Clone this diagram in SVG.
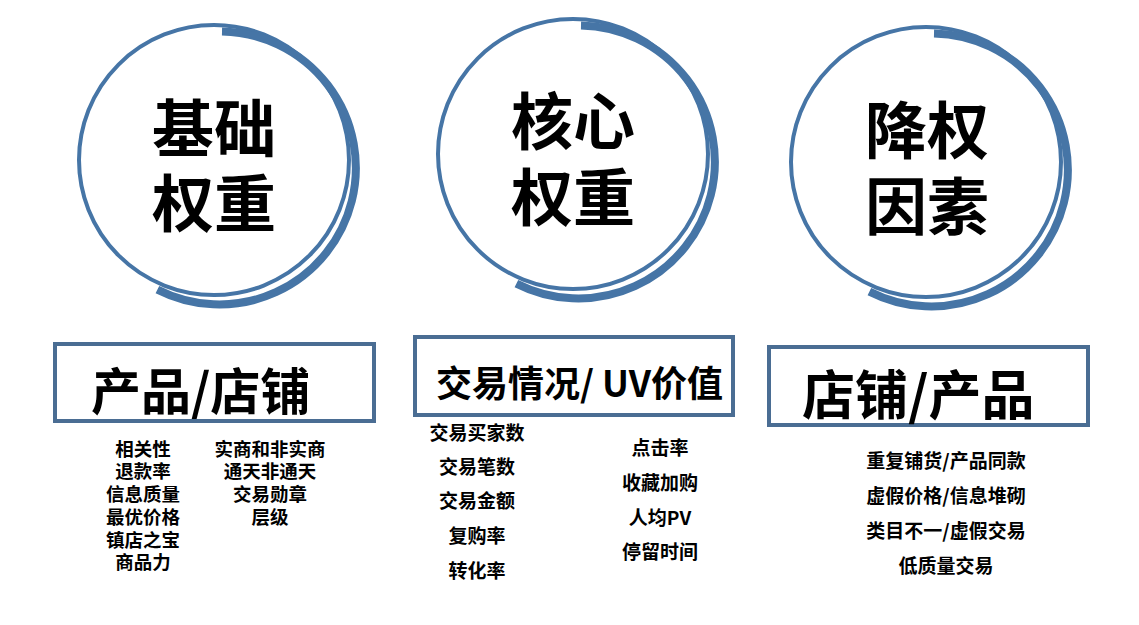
<svg xmlns="http://www.w3.org/2000/svg" width="1139" height="625" viewBox="0 0 1139 625">
<style>
.bg{fill:#ffffff}
.ring{fill:none;stroke:#4675a6;stroke-width:4}
.band{fill:none;stroke:#4675a6;stroke-width:8;stroke-linecap:butt}
.box{fill:#ffffff;stroke:#4a6d93;stroke-width:4}
text{font-family:"Noto Sans CJK SC","Noto Sans",sans-serif;font-weight:700;fill:#000000;dominant-baseline:central}
tspan{dominant-baseline:central}
.big{font-size:62px;text-anchor:middle}
.t1{font-size:50px}
.t2{font-size:36px}
.t3{font-size:53px}
.it{font-size:19px;text-anchor:middle}
.is{font-size:18.5px;text-anchor:middle}
</style>
<rect class="bg" x="0" y="0" width="1139" height="625"/>
<g id="connectors"/>
<g id="circle-basic">
<circle class="ring" cx="214" cy="160" r="135"/>
<path class="band" d="M 222 31.5 A 136.5 136.5 0 1 1 157.4 289.6"/>
<text class="big"><tspan x="214" y="125">基础</tspan><tspan x="214" y="200">权重</tspan></text>
</g>
<g id="circle-core">
<circle class="ring" cx="573" cy="154" r="135"/>
<path class="band" d="M 581 25.5 A 136.5 136.5 0 1 1 516.4 283.6"/>
<text class="big"><tspan x="573" y="118">核心</tspan><tspan x="573" y="194">权重</tspan></text>
</g>
<g id="circle-down">
<circle class="ring" cx="926" cy="162" r="135"/>
<path class="band" d="M 934 33.5 A 136.5 136.5 0 1 1 869.4 291.6"/>
<text class="big"><tspan x="927" y="127">降权</tspan><tspan x="927" y="203">因素</tspan></text>
</g>
<g id="box-product-shop">
<rect class="box" x="55" y="344" width="319" height="77"/>
<text class="t1" x="91" y="388">产品/店铺</text>
</g>
<g id="list-basic-left">
<text class="is"><tspan x="143" y="448">相关性</tspan><tspan x="143" y="470">退款率</tspan><tspan x="143" y="493">信息质量</tspan><tspan x="143" y="516">最优价格</tspan><tspan x="143" y="539">镇店之宝</tspan><tspan x="143" y="561">商品力</tspan></text>
</g>
<g id="list-basic-right">
<text class="is"><tspan x="270" y="448">实商和非实商</tspan><tspan x="270" y="470">通天非通天</tspan><tspan x="270" y="493">交易勋章</tspan><tspan x="270" y="516">层级</tspan></text>
</g>
<g id="box-trade-uv">
<rect class="box" x="415" y="337" width="318" height="78"/>
<text class="t2" x="436" y="381">交易情况/ UV价值</text>
</g>
<g id="list-core-left">
<text class="it"><tspan x="477" y="431">交易买家数</tspan><tspan x="477" y="465">交易笔数</tspan><tspan x="477" y="499">交易金额</tspan><tspan x="477" y="534">复购率</tspan><tspan x="477" y="569">转化率</tspan></text>
</g>
<g id="list-core-right">
<text class="it"><tspan x="660" y="446">点击率</tspan><tspan x="660" y="481">收藏加购</tspan><tspan x="660" y="516">人均PV</tspan><tspan x="660" y="550">停留时间</tspan></text>
</g>
<g id="box-shop-product">
<rect class="box" x="769" y="347" width="319" height="78"/>
<text class="t3" x="802" y="392">店铺/产品</text>
</g>
<g id="list-down">
<text class="it"><tspan x="946" y="459">重复铺货/产品同款</tspan><tspan x="946" y="494">虚假价格/信息堆砌</tspan><tspan x="946" y="529">类目不一/虚假交易</tspan><tspan x="946" y="564">低质量交易</tspan></text>
</g>
</svg>
